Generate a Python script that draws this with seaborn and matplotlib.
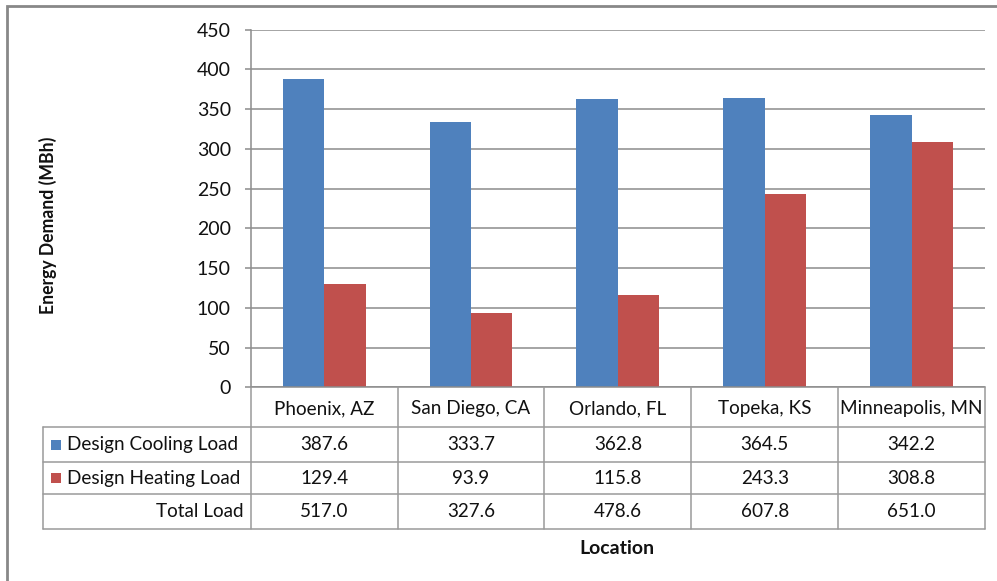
import matplotlib
matplotlib.use("Agg")
import matplotlib.pyplot as plt
import matplotlib.patches as mpatches
import pandas as pd
import seaborn as sns

# Data
locations = ["Phoenix, AZ", "San Diego, CA", "Orlando, FL", "Topeka, KS", "Minneapolis, MN"]
cooling_load = [387.6, 333.7, 362.8, 364.5, 342.2]
heating_load = [129.4, 93.9, 115.8, 243.3, 308.8]
total_load = [517.0, 327.6, 478.6, 607.8, 651.0]
series_names = ["Design Cooling Load", "Design Heating Load"]
total_name = "Total Load"
y_ticks = [0, 50, 100, 150, 200, 250, 300, 350, 400, 450]

colors = {"Design Cooling Load": "#4F81BD", "Design Heating Load": "#C0504D"}

df = pd.DataFrame({
    "Location": locations * 2,
    "Series": [series_names[0]] * len(locations) + [series_names[1]] * len(locations),
    "Value": cooling_load + heating_load,
})

sns.set_theme(style="white")
plt.rcParams["font.family"] = ["Lato", "DejaVu Sans"]

W, H = 997, 581
fig = plt.figure(figsize=(W / 100, H / 100), dpi=100)

def fx(px):
    return px / W

def fy(py):
    return 1 - py / H

# plot area geometry (pixels)
ax_l, ax_r, ax_t, ax_b = 250.7, 985, 29.7, 387.3
ax = fig.add_axes([fx(ax_l), fy(ax_b), fx(ax_r) - fx(ax_l), fy(ax_t) - fy(ax_b)])

grid_c = "#8C8C8C"
sns.barplot(data=df, x="Location", y="Value", hue="Series", order=locations,
            hue_order=series_names, palette=colors, width=0.565, gap=0,
            saturation=1, edgecolor="none", linewidth=0, ax=ax, legend=False)

ax.set_xlim(-0.5, len(locations) - 0.5)
ax.set_ylim(0, 450)
ax.set_yticks(y_ticks)
ax.yaxis.grid(True, color=grid_c, linewidth=1.1)
ax.set_axisbelow(True)
for s in ["top", "right", "bottom"]:
    ax.spines[s].set_visible(False)
ax.spines["left"].set_color(grid_c)
ax.spines["left"].set_linewidth(1.1)
ax.tick_params(axis="y", left=True, length=4.3, width=1.1, color=grid_c,
               labelsize=14, labelcolor="#111111", pad=10)
ax.set_xticks([])
ax.set_xlabel("")
ax.set_ylabel("")

# data table beneath the plot
cat_w = (ax_r - ax_l) / len(locations)
tbl_left = 43
x0 = -0.5 - (ax_l - tbl_left) / cat_w
tbl_bottom = 529.3
tax = fig.add_axes([fx(tbl_left), fy(tbl_bottom), fx(ax_r) - fx(tbl_left),
                    fy(ax_b) - fy(tbl_bottom)])
tax.set_xlim(x0, len(locations) - 0.5)
rows_y = [0, 39.4, 75, 107, 142]
tax.set_ylim(rows_y[-1], 0)
tax.axis("off")

line_c = "#9A9A9A"
lw = 1.1
# horizontal lines
tax.plot([-0.5, len(locations) - 0.5], [0, 0], color=grid_c, lw=lw, clip_on=False)
for yv in rows_y[1:]:
    tax.plot([x0, len(locations) - 0.5], [yv, yv], color=line_c, lw=lw, clip_on=False)
# vertical lines
for i in range(len(locations) + 1):
    tax.plot([i - 0.5, i - 0.5], [0, rows_y[-1]], color=line_c, lw=lw, clip_on=False)
tax.plot([x0, x0], [rows_y[1], rows_y[-1]], color=line_c, lw=lw, clip_on=False)

fs = 13.6
txt_c = "#111111"
for i, loc in enumerate(locations):
    tax.text(i, (rows_y[0] + rows_y[1]) / 2 + 1.5, loc, ha="center", va="center",
             fontsize=fs, color=txt_c)
row_values = [cooling_load, heating_load, total_load]
for r, vals in enumerate(row_values):
    yc = (rows_y[r + 1] + rows_y[r + 2]) / 2
    for i, v in enumerate(vals):
        tax.text(i, yc, f"{v:.1f}", ha="center", va="center", fontsize=fs, color=txt_c)

# row labels with legend keys
px_unit = (len(locations) - 0.5 - x0) / (ax_r - tbl_left)
for r, name in enumerate(series_names):
    yc = (rows_y[r + 1] + rows_y[r + 2]) / 2
    sq = 10
    tax.add_patch(mpatches.Rectangle((x0 + 8 * px_unit, yc - sq / 2), sq * px_unit, sq,
                                     facecolor=colors[name], edgecolor="none", clip_on=False))
    tax.text(x0 + 24 * px_unit, yc, name, ha="left", va="center", fontsize=fs, color=txt_c)
yc = (rows_y[3] + rows_y[4]) / 2
tax.text(-0.5 - 7 * px_unit, yc, total_name, ha="right", va="center", fontsize=fs, color=txt_c)

# axis titles
fig.text(fx(48), fy(225), "Energy Demand (MBh)", rotation=90, ha="center", va="center",
         fontsize=12.7, fontweight="bold", color=txt_c)
fig.text(fx(617), fy(548), "Location", ha="center", va="center",
         fontsize=14, fontweight="bold", color=txt_c)

# outer chart frame
fig.patches.append(mpatches.Rectangle((fx(7), fy(600)), fx(1010) - fx(7), fy(6) - fy(600),
                                      transform=fig.transFigure, fill=False,
                                      edgecolor="#888888", linewidth=2))

fig.savefig("out.png", dpi=100)
